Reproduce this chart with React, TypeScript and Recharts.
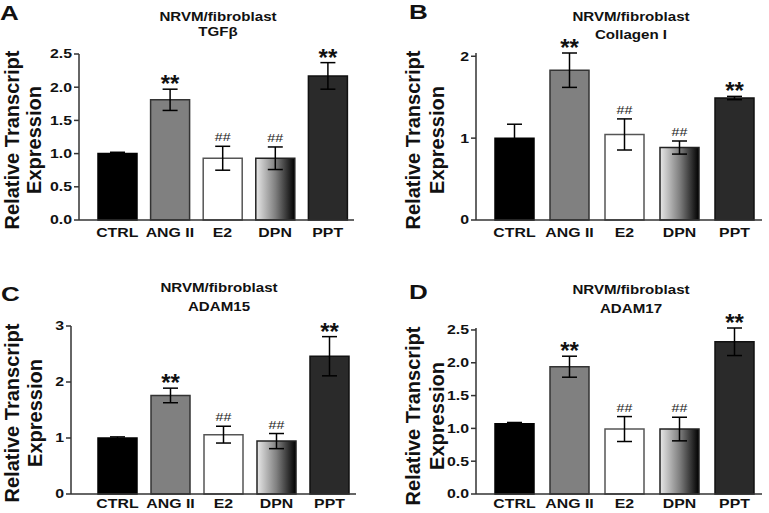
import React from "react";
import { Bar, BarChart, Cell, ErrorBar, LabelList, XAxis, YAxis } from "recharts";

const groups = ["CTRL", "ANG II", "E2", "DPN", "PPT"];
const marks = ["", "**", "##", "##", "**"];

const tgfb = [1.0, 1.81, 0.93, 0.93, 2.17];
const tgfbErr = [0.02, 0.16, 0.18, 0.17, 0.2];

const col1 = [1.0, 1.83, 1.045, 0.885, 1.49];
const col1Err = [0.17, 0.21, 0.19, 0.08, 0.02];

const adam15 = [1.0, 1.76, 1.06, 0.945, 2.46];
const adam15Err = [0.02, 0.13, 0.15, 0.135, 0.35];

const adam17 = [1.07, 1.94, 0.99, 0.99, 2.32];
const adam17Err = [0.02, 0.16, 0.19, 0.18, 0.21];

const ticksHalf = [0, 0.5, 1, 1.5, 2, 2.5];
const ticksTwo = [0, 1, 2];
const ticksThree = [0, 1, 2, 3];

const FONT = "'Liberation Sans', Arial, Helvetica, sans-serif";
const INK = "#111";

const fills = ["#000000", "#808080", "#ffffff", "GRAD", "#2a2a2a"];
const strokes = ["#000000", "#333333", "#555555", "#222222", "#111111"];

// layout for each quadrant (local svg coords)
const panels = [
  {
    id: "a", letter: "A", gene: "TGFβ", values: tgfb, errs: tgfbErr, max: 2.5, ticks: ticksHalf, dec: 1,
    pos: [0, 0], w: 384, plot: { left: 79, top: 54, right: 354, bottom: 220, pad: 12 }, xTick: 6,
    letterXY: [0, 20], titleX: 218, titleY: [21, 36], labelX: [18.5, 41], labelY: 140,
  },
  {
    id: "b", letter: "B", gene: "Collagen I", values: col1, errs: col1Err, max: 2, ticks: ticksTwo, dec: 0,
    pos: [384, 0], w: 385, plot: { left: 92, top: 53, right: 378, bottom: 220, pad: 11 }, xTick: 6,
    letterXY: [25, 19], titleX: 247, titleY: [21, 39], labelX: [36, 60], labelY: 140,
  },
  {
    id: "c", letter: "C", gene: "ADAM15", values: adam15, errs: adam15Err, max: 3, ticks: ticksThree, dec: 0,
    pos: [0, 256], w: 384, plot: { left: 71, top: 70, right: 356, bottom: 238, pad: 20 }, xTick: 2.5,
    letterXY: [1, 45], titleX: 219, titleY: [36, 55], labelX: [19, 42], labelY: 157,
  },
  {
    id: "d", letter: "D", gene: "ADAM17", values: adam17, errs: adam17Err, max: 2.5, ticks: ticksHalf, dec: 1,
    pos: [384, 256], w: 385, plot: { left: 92, top: 72, right: 378, bottom: 238, pad: 11 }, xTick: 2.5,
    letterXY: [25, 43], titleX: 247, titleY: [38, 57], labelX: [36, 60], labelY: 160,
  },
];

function Wide({ x, y, sx = 1.25, size = 12, weight = 700, anchor = "middle", fill = INK, children }: any) {
  return (
    <g transform={`translate(${x},${y}) scale(${sx},1)`}>
      <text x={0} y={0} textAnchor={anchor} fontSize={size} fontWeight={weight} fontFamily={FONT} fill={fill}>
        {children}
      </text>
    </g>
  );
}

function Panel({ cfg }: { cfg: any }) {
  const H = 256;
  const data = groups.map((g, i) => ({ group: g, value: cfg.values[i], err: cfg.errs[i], mark: marks[i] }));
  const p = cfg.plot;
  const gradId = `dpn-${cfg.id}`;

  const renderMark = (props: any) => {
    const i = props.index;
    const txt = marks[i];
    if (!txt) return null;
    const x = Number(props.x);
    const y = Number(props.y);
    const w = Number(props.width);
    const h = Math.abs(Number(props.height));
    const v = cfg.values[i];
    const errTop = y - cfg.errs[i] * (h / v);
    const cx = x + w / 2;
    if (txt === "**") {
      return (
        <text key={`m${i}`} x={cx} y={errTop + 3} textAnchor="middle" fontSize={24} fontWeight={700} fontFamily={FONT} fill={INK}>
          {txt}
        </text>
      );
    }
    return (
      <Wide key={`m${i}`} x={cx} y={errTop - 5} sx={1.3} size={11} weight={400} fill="#222">
        {txt}
      </Wide>
    );
  };

  return (
    <div style={{ position: "absolute", left: cfg.pos[0], top: cfg.pos[1] }}>
      <BarChart
        width={cfg.w}
        height={H}
        data={data}
        margin={{ top: p.top, right: cfg.w - p.right, bottom: H - p.bottom - 14, left: p.left - 40 }}
        barSize={39}
      >
        <defs>
          <linearGradient id={gradId} x1="0" y1="0" x2="1" y2="0">
            <stop offset="0%" stopColor="#e8e8e8" />
            <stop offset="50%" stopColor="#808080" />
            <stop offset="100%" stopColor="#000000" />
          </linearGradient>
        </defs>
        <XAxis
          dataKey="group"
          height={14}
          interval={0}
          tickLine={false}
          tickSize={cfg.xTick}
          axisLine={{ stroke: "#333", strokeWidth: 1.5 }}
          padding={{ left: p.pad, right: 0 }}
          tick={(t: any) => (
            <g transform={`translate(${t.x},${t.y}) scale(1.22,1)`}>
              <text x={0} y={0} dy="0.71em" textAnchor="middle" fontSize={13} fontWeight={700} fontFamily={FONT} fill={INK}>
                {t.payload.value}
              </text>
            </g>
          )}
        />
        <YAxis
          width={40}
          domain={[0, cfg.max]}
          ticks={cfg.ticks}
          interval={0}
          tickSize={5}
          tickMargin={2}
          axisLine={{ stroke: "#333", strokeWidth: 1.5 }}
          tickLine={{ stroke: "#333", strokeWidth: 1.5 }}
          tick={(t: any) => (
            <g transform={`translate(${t.x},${t.y}) scale(1.27,1)`}>
              <text x={0} y={0} dy="0.355em" textAnchor="end" fontSize={12.5} fontWeight={700} fontFamily={FONT} fill={INK}>
                {Number(t.payload.value).toFixed(cfg.dec)}
              </text>
            </g>
          )}
        />
        <Bar dataKey="value" isAnimationActive={false} strokeWidth={1.5}>
          {data.map((d, i) => (
            <Cell key={d.group} fill={fills[i] === "GRAD" ? `url(#${gradId})` : fills[i]} stroke={strokes[i]} />
          ))}
          <ErrorBar dataKey="err" width={7.5} stroke="#000" strokeWidth={1.5} direction="y" />
          <LabelList dataKey="mark" content={renderMark} />
        </Bar>

        <Wide x={cfg.letterXY[0]} y={cfg.letterXY[1]} sx={1.3} size={20} anchor="start">
          {cfg.letter}
        </Wide>
        <Wide x={cfg.titleX} y={cfg.titleY[0]} sx={1.26} size={12}>
          NRVM/fibroblast
        </Wide>
        <Wide x={cfg.titleX} y={cfg.titleY[1]} sx={1.26} size={12}>
          {cfg.gene}
        </Wide>
        <text
          transform={`translate(${cfg.labelX[0]},${cfg.labelY}) rotate(-90)`}
          textAnchor="middle"
          fontSize={20}
          fontWeight={700}
          fontFamily={FONT}
          fill={INK}
        >
          Relative Transcript
        </text>
        <text
          transform={`translate(${cfg.labelX[1]},${cfg.labelY}) rotate(-90)`}
          textAnchor="middle"
          fontSize={20}
          fontWeight={700}
          fontFamily={FONT}
          fill={INK}
        >
          Expression
        </text>
      </BarChart>
    </div>
  );
}

export default function App() {
  return (
    <>
      <style>{`body{margin:0;background:#fff}`}</style>
      <div style={{ position: "relative", width: 769, height: 513, background: "#fff", overflow: "hidden" }}>
        {panels.map((c) => (
          <Panel key={c.id} cfg={c} />
        ))}
      </div>
    </>
  );
}
